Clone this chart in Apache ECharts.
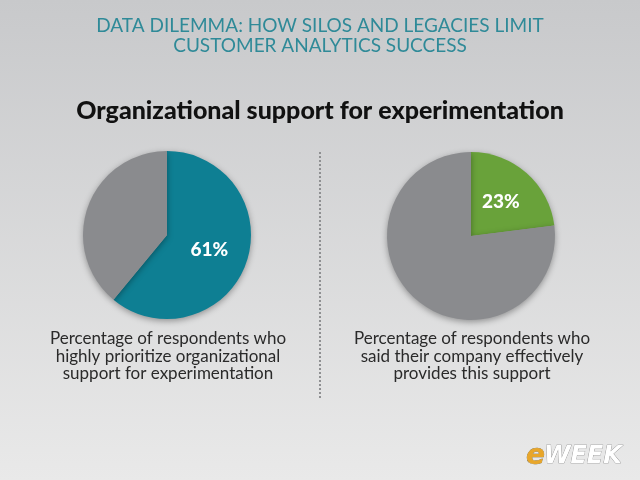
<!DOCTYPE html>
<html>
<head>
<meta charset="utf-8">
<script src="https://cdn.jsdelivr.net/npm/echarts@6/dist/echarts.min.js"></script>
<style>
  html, body { margin: 0; padding: 0; }
  #chart { width: 640px; height: 480px; background: linear-gradient(#c8c9cb, #e9e9e9); }
</style>
</head>
<body>
<div id="chart"></div>
<script>
// data
const leftPie = [
  { name: 'Prioritize', value: 61 },
  { name: 'Other', value: 39 }
];
const rightPie = [
  { name: 'Effectively provides', value: 23 },
  { name: 'Other', value: 77 }
];
const leftCaption = 'Percentage of respondents who\nhighly prioritize organizational\nsupport for experimentation';
const rightCaption = 'Percentage of respondents who\nsaid their company effectively\nprovides this support';

const teal = '#0e7f93';
const green = '#69a23a';
const grey = '#8a8b8e';

const chart = echarts.init(document.getElementById('chart'));

function pieSeries(data, center, colors) {
  return {
    type: 'pie',
    center: center,
    radius: [0, 84],
    startAngle: 90,
    clockwise: true,
    silent: true,
    label: {
      position: 'inside',
      color: '#fff',
      fontFamily: 'Lato',
      fontWeight: 900,
      fontSize: 19,
      formatter: function (p) { return p.dataIndex === 0 ? p.value + '%' : ''; }
    },
    labelLine: { show: false },
    itemStyle: {
      color: function (p) { return colors[p.dataIndex]; },
      shadowBlur: 6,
      shadowColor: 'rgba(0,0,0,0.35)',
      shadowOffsetY: 2,
      borderWidth: 0
    },
    data: data
  };
}

const opt = {
  title: [
    {
      text: 'DATA DILEMMA: HOW SILOS AND LEGACIES LIMIT\nCUSTOMER ANALYTICS SUCCESS',
      left: 'center',
      top: 11,
      textStyle: { color: '#2f8a98', fontFamily: 'Lato', fontWeight: 'normal', fontSize: 19, lineHeight: 20 }
    },
    {
      text: 'Organizational support for experimentation',
      left: 'center',
      top: 93,
      textStyle: { color: '#111', fontFamily: 'Lato', fontWeight: 900, fontSize: 25 }
    }
  ],
  graphic: [
    {
      type: 'line',
      shape: { x1: 320, y1: 152, x2: 320, y2: 400 },
      style: { stroke: '#8f9092', lineWidth: 2, lineDash: [2, 2] }
    },
    {
      type: 'text',
      style: { text: leftCaption, x: 168, y: 330, align: 'center', fill: '#2a2a2a', font: '17px Lato', lineHeight: 17.5 }
    },
    {
      type: 'text',
      style: { text: rightCaption, x: 472, y: 330, align: 'center', fill: '#2a2a2a', font: '17px Lato', lineHeight: 17.5 }
    },
    {
      type: 'text',
      style: { text: 'e', x: 526, y: 443, fill: '#e8a62a', font: 'italic bold 28px "DejaVu Sans"', stroke: '#6d5a2a', lineWidth: 0.5 }
    },
    {
      type: 'text',
      style: { text: 'WEEK', x: 544, y: 445, fill: '#ffffff', font: 'italic bold 24px "DejaVu Sans"', stroke: '#777', lineWidth: 0.6 }
    }
  ],
  series: [
    pieSeries(leftPie, [167, 235], [teal, grey]),
    pieSeries(rightPie, [471, 236], [green, grey])
  ]
};
chart.setOption(opt);
</script>
</body>
</html>
